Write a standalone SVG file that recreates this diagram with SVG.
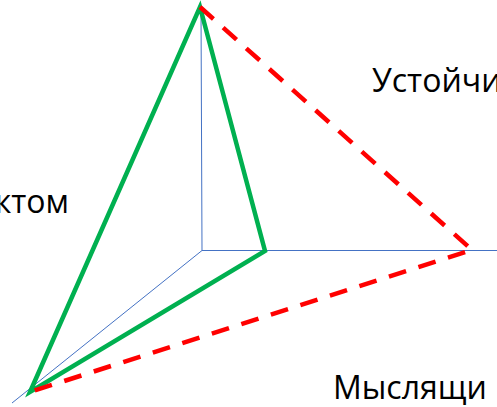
<svg xmlns="http://www.w3.org/2000/svg" width="497" height="407" viewBox="0 0 497 407">
<style>
.axis{stroke:#4472C4;stroke-width:1;fill:none}
.green{stroke:#00B050;stroke-width:4.5;fill:none;stroke-linejoin:miter}
.red{stroke:#FF0000;stroke-width:4.5;fill:none;stroke-dasharray:18 13}
.lbl{font-family:"Open Sans","Liberation Sans",sans-serif;font-size:32px;fill:#000}
</style>
<rect width="497" height="407" fill="#fff"/>
<g id="connectors">
<line class="axis" x1="202" y1="250.5" x2="201" y2="9"/>
<line class="axis" x1="202" y1="250.5" x2="497" y2="250.5"/>
<line class="axis" x1="202" y1="250.5" x2="12" y2="403"/>
<polygon class="green" points="200,7 265,251 30,392"/>
<polyline class="red" points="200,7 472,250 30,392"/>
</g>
<g id="label-top"><text class="lbl" x="372" y="92">Устойчи</text></g>
<g id="label-left"><text class="lbl" x="69" y="213" text-anchor="end">ктом</text></g>
<g id="label-bottom"><text class="lbl" x="333" y="399">Мыслящи</text></g>
</svg>
